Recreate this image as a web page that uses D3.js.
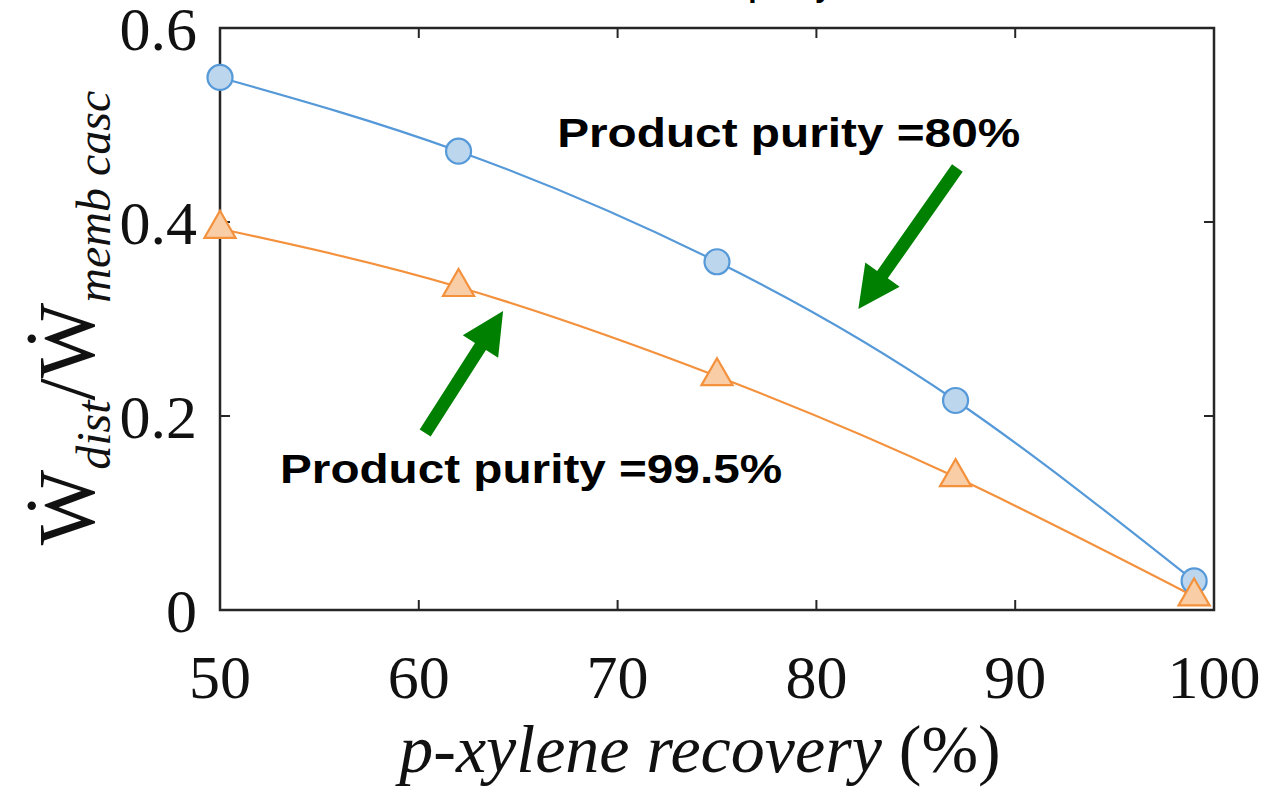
<!DOCTYPE html>
<html lang="en">
<head>
    <meta charset="UTF-8">
    <title>Purity chart</title>
    <style>
        body { margin: 0; background: #fff; }
    </style>
</head>
<body>
<script src="https://d3js.org/d3.v7.min.js"></script>
<script>
    let w = 1264, h = 788;

    // data
    let recovery = [50, 62, 75, 87, 99];
    let purity80 = [0.549, 0.473, 0.359, 0.216, 0.030];
    let purity995 = [0.393, 0.333, 0.241, 0.137, 0.014];
    let xTicks = [50, 60, 70, 80, 90, 100];
    let yTicks = [0, 0.2, 0.4, 0.6];

    let x = d3.scaleLinear().domain([50, 100]).range([220, 1214]);
    let y = d3.scaleLinear().domain([0, 0.6]).range([610, 28]);

    let svg = d3.select("body")
        .append("svg")
        .attr("width", w)
        .attr("height", h);

    svg.append("rect").attr("width", w).attr("height", h).attr("fill", "#fff");

    // title, cut off at the top edge (as in the original)
    svg.append("text")
        .attr("x", 790)
        .attr("y", -3)
        .attr("text-anchor", "middle")
        .style("font-family", "Liberation Sans, Arial, sans-serif")
        .style("font-weight", "bold")
        .style("font-size", "30px")
        .text("purity");

    let axisCol = "#262626";
    let serif = "Liberation Serif, Times New Roman, serif";

    // box
    svg.append("rect")
        .attr("x", x(50)).attr("y", y(0.6))
        .attr("width", x(100) - x(50)).attr("height", y(0) - y(0.6))
        .attr("fill", "none")
        .attr("stroke", axisCol)
        .attr("stroke-width", 2.5);

    let tickLen = 10;
    // ticks on all four sides, pointing in
    xTicks.forEach(function (t) {
        svg.append("line").attr("x1", x(t)).attr("x2", x(t))
            .attr("y1", y(0)).attr("y2", y(0) - tickLen)
            .attr("stroke", axisCol).attr("stroke-width", 2);
        svg.append("line").attr("x1", x(t)).attr("x2", x(t))
            .attr("y1", y(0.6)).attr("y2", y(0.6) + tickLen)
            .attr("stroke", axisCol).attr("stroke-width", 2);
        svg.append("text")
            .attr("x", x(t))
            .attr("y", 698)
            .attr("text-anchor", "middle")
            .style("font-family", serif)
            .style("font-size", "62px")
            .attr("fill", "#111")
            .text(t);
    });
    yTicks.forEach(function (t) {
        svg.append("line").attr("x1", x(50)).attr("x2", x(50) + tickLen)
            .attr("y1", y(t)).attr("y2", y(t))
            .attr("stroke", axisCol).attr("stroke-width", 2);
        svg.append("line").attr("x1", x(100)).attr("x2", x(100) - tickLen)
            .attr("y1", y(t)).attr("y2", y(t))
            .attr("stroke", axisCol).attr("stroke-width", 2);
        svg.append("text")
            .attr("x", 197)
            .attr("y", y(t) + 22)
            .attr("text-anchor", "end")
            .style("font-family", serif)
            .style("font-size", "62px")
            .attr("fill", "#111")
            .text(t === 0 ? "0" : t.toFixed(1));
    });

    // x label
    let xl = svg.append("text")
        .attr("x", 700)
        .attr("y", 772)
        .attr("text-anchor", "middle")
        .style("font-family", serif)
        .style("font-size", "68px")
        .attr("fill", "#111");
    xl.append("tspan").style("font-style", "italic").text("p-xylene recovery ");
    xl.append("tspan").text("(%)");

    // y label
    let yl = svg.append("text")
        .attr("transform", "translate(94,318) rotate(-90)")
        .attr("text-anchor", "middle")
        .style("font-family", serif)
        .style("font-size", "80px")
        .attr("fill", "#111");
    yl.append("tspan").text("\u1E86");
    yl.append("tspan").attr("dy", 16).style("font-size", "48px").style("font-style", "italic").text("dist");
    yl.append("tspan").attr("dy", -16).text("/\u1E86");
    yl.append("tspan").attr("dy", 16).style("font-size", "48px").style("font-style", "italic").text("memb casc");

    // lines
    let line = d3.line()
        .x(function (d) { return x(d[0]); })
        .y(function (d) { return y(d[1]); })
        .curve(d3.curveNatural);

    let blue = recovery.map(function (r, i) { return [r, purity80[i]]; });
    let orange = recovery.map(function (r, i) { return [r, purity995[i]]; });

    svg.append("path").attr("d", line(blue))
        .attr("fill", "none").attr("stroke", "#5599d8").attr("stroke-width", 2.2);
    svg.append("path").attr("d", line(orange))
        .attr("fill", "none").attr("stroke", "#f4913d").attr("stroke-width", 2.2);

    svg.selectAll("circle.p80")
        .data(blue)
        .enter()
        .append("circle")
        .attr("class", "p80")
        .attr("cx", function (d) { return x(d[0]); })
        .attr("cy", function (d) { return y(d[1]); })
        .attr("r", 12.5)
        .attr("fill", "#bcd6ee")
        .attr("stroke", "#5599d8")
        .attr("stroke-width", 2.2);

    let tri = d3.symbol().type(d3.symbolTriangle).size(420);
    svg.selectAll("path.p995")
        .data(orange)
        .enter()
        .append("path")
        .attr("class", "p995")
        .attr("d", tri)
        .attr("transform", function (d) { return "translate(" + x(d[0]) + "," + y(d[1]) + ")"; })
        .attr("fill", "#f9cda6")
        .attr("stroke", "#f4913d")
        .attr("stroke-width", 2.2);

    // annotations
    let labels = [
        {text: "Product purity =80%", x: 66.96, y: 0.4773, len: 463},
        {text: "Product purity =99.5%", x: 53.02, y: 0.1309, len: 502}
    ];
    labels.forEach(function (l) {
        svg.append("text")
            .attr("x", x(l.x))
            .attr("y", y(l.y))
            .attr("textLength", l.len)
            .attr("lengthAdjust", "spacingAndGlyphs")
            .style("font-family", "Liberation Sans, Arial, sans-serif")
            .style("font-weight", "bold")
            .style("font-size", "41px")
            .attr("fill", "#000")
            .text(l.text);
    });

    let arrows = [
        {from: [87.09, 0.4557], to: [82.11, 0.3103]},
        {from: [60.32, 0.1825], to: [64.24, 0.3082]}
    ];
    arrows.forEach(function (a) {
        let x0 = x(a.from[0]), y0 = y(a.from[1]);
        let x1 = x(a.to[0]), y1 = y(a.to[1]);
        let dx = x1 - x0, dy = y1 - y0;
        let L = Math.sqrt(dx * dx + dy * dy);
        let ux = dx / L, uy = dy / L;
        let px = -uy, py = ux;
        let sw = 6.5, hw = 21, hl = 42;
        let bx = x1 - ux * hl, by = y1 - uy * hl;
        let pts = [
            [x0 + px * sw, y0 + py * sw],
            [bx + px * sw, by + py * sw],
            [bx + px * hw, by + py * hw],
            [x1, y1],
            [bx - px * hw, by - py * hw],
            [bx - px * sw, by - py * sw],
            [x0 - px * sw, y0 - py * sw]
        ];
        svg.append("polygon")
            .attr("points", pts.map(function (p) { return p.join(","); }).join(" "))
            .attr("fill", "#008000");
    });
</script>
</body>
</html>
